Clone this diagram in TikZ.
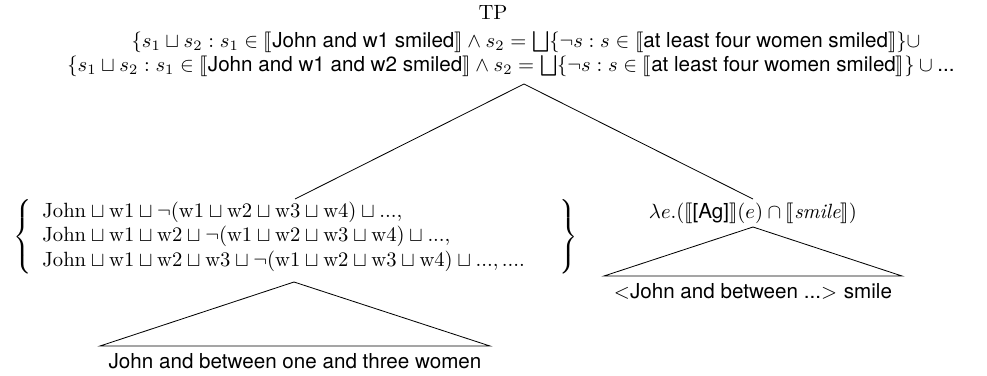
\documentclass[tikz,border=0pt]{standalone}
\usepackage{amsmath,amssymb}
\usepackage{stmaryrd}
\usepackage{fontspec}
\setsansfont{TeX Gyre Heros}
\begin{document}
\begin{tikzpicture}[x=0.485pt, y=-0.485pt]
				\tikzset{every node/.style={inner sep=0pt, outer sep=0pt}}
				\useasboundingbox (0,0) rectangle (987,376);
				% --- 1. Gốc TP ---
				\node (TP) at (493,12) {TP};
				\node (setA) at (526,42) {$\{s_1\sqcup s_2 : s_1\in\llbracket\textsf{John and w1 smiled}\rrbracket\wedge s_2=\bigsqcup\{\neg s : s\in\llbracket\textsf{at least four women smiled}\rrbracket\}\cup$};
				\node (setB) at (511,66) {$\{s_1\sqcup s_2 : s_1\in\llbracket\textsf{John and w1 and w2 smiled}\rrbracket\wedge s_2=\bigsqcup\{\neg s : s\in\llbracket\textsf{at least four women smiled}\rrbracket\}\cup \textsf{...}$};
				\coordinate (top) at (524,84);
				% --- 2. Hai nhánh ---
				\node (subj) at (296,237) {$\left\{\begin{array}{l}
					\mathrm{John}\sqcup\mathrm{w1}\sqcup\neg(\mathrm{w1}\sqcup\mathrm{w2}\sqcup\mathrm{w3}\sqcup\mathrm{w4})\sqcup ...,\\
					\mathrm{John}\sqcup\mathrm{w1}\sqcup\mathrm{w2}\sqcup\neg(\mathrm{w1}\sqcup\mathrm{w2}\sqcup\mathrm{w3}\sqcup\mathrm{w4})\sqcup ...,\\
					\mathrm{John}\sqcup\mathrm{w1}\sqcup\mathrm{w2}\sqcup\mathrm{w3}\sqcup\neg(\mathrm{w1}\sqcup\mathrm{w2}\sqcup\mathrm{w3}\sqcup\mathrm{w4})\sqcup ...,....\hspace{1.2em}
				\end{array}\right\}$};
				\node (pred) at (753,213) {$\lambda e.(\llbracket\textsf{[Ag]}\rrbracket(e)\cap\llbracket\mathit{smile}\rrbracket)$};
				\coordinate (subjtop) at (295,199);
				\coordinate (predtop) at (753,199);
				\draw (subjtop) -- (top) -- (predtop);
				% --- 3. Tam giác ---
				\coordinate (L) at (294,282);
				\coordinate (L1) at (100,346);
				\coordinate (L2) at (490,346);
				\draw (L) -- (L1) -- (L2) -- cycle;
				\node (subjleaf) at (295,361) {\textsf{John and between one and three women}};
				\coordinate (R) at (753,227);
				\coordinate (R1) at (604,276);
				\coordinate (R2) at (902,276);
				\draw (R) -- (R1) -- (R2) -- cycle;
				\node (predleaf) at (753,291) {$<$\textsf{John and between ...}$>$ \textsf{smile}};
			\end{tikzpicture}
\end{document}
